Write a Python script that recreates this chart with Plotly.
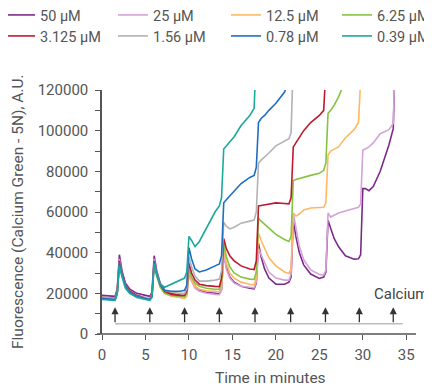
import plotly.graph_objects as go

# ---------------- data ----------------
time_min = [0, 0.5, 1, 1.5, 1.75, 2, 2.3, 2.7, 3.2, 4, 5, 5.5, 5.75, 6, 6.3, 6.7, 7.2, 8, 9, 9.5,
            9.75, 10, 10.3, 10.7, 11.2, 12, 13, 13.5, 13.75, 14, 14.3, 14.7, 15.2, 16, 17, 17.5,
            17.75, 18, 18.3, 18.7, 19.2, 20, 21, 21.5, 21.75, 22, 22.3, 22.7, 23.2, 24, 25, 25.5,
            25.75, 26, 26.3, 26.7, 27.2, 28, 29, 29.5, 29.75, 30, 30.3, 30.7, 31.2, 32, 33, 33.5, 33.75]

series_names = ["50 µM", "25 µM", "12.5 µM", "6.25 µM", "3.125 µM", "1.56 µM", "0.78 µM", "0.39 µM"]

conc_50 = [19000, 18800, 18500, 18500, 22000, 39000, 31000, 25000, 22000, 20000, 19000, 18500, 20500,
           38500, 31000, 25000, 21500, 20000, 19000, 18500, 19500, 30000, 27000, 23500, 21500, 20500,
           20000, 19800, 22000, 40000, 33000, 28000, 25500, 23500, 22500, 22200, 25000, 44500, 38000,
           32000, 27500, 24500, 24500, 25500, 28000, 56000, 48000, 40000, 34000, 29500, 27300, 28000,
           30500, 56000, 52000, 47000, 43000, 38500, 36800, 37000, 39000, 71500, 71500, 70500, 72500,
           80000, 93000, 101000, 140000]
conc_25 = [18000, 17800, 17500, 17500, 21000, 37000, 30000, 24000, 21000, 19000, 18000, 17500, 19500,
           37000, 30000, 24000, 20500, 19000, 18000, 17500, 18500, 29000, 26000, 22500, 21000, 20000,
           19500, 19300, 21500, 39000, 32000, 27500, 25000, 23500, 23000, 22700, 25500, 42000, 39000,
           35000, 30500, 27500, 26500, 26500, 29500, 59500, 52000, 43000, 36500, 31500, 29300, 29000,
           31500, 59500, 57500, 58500, 59500, 60500, 61800, 62300, 64000, 90500, 91000, 92000, 94000,
           98500, 100500, 103500, 140000]
conc_12_5 = [17500, 17300, 17000, 17000, 20000, 35000, 29000, 23500, 20000, 18500, 17500, 17000, 18500,
             35000, 29000, 23000, 20000, 18500, 18000, 17500, 19000, 31000, 27000, 23500, 22000, 21200,
             21000, 20800, 23500, 41500, 35000, 30000, 27500, 25500, 24500, 24200, 27500, 49500, 46000,
             42000, 37500, 33500, 30500, 29800, 32000, 59500, 58000, 59000, 61000, 62000, 62200, 62300,
             64500, 88000, 90000, 90800, 92000, 96500, 100500, 104000, 125000]
conc_6_25 = [17200, 17000, 16800, 16800, 20000, 35000, 29000, 23000, 20000, 18500, 17500, 17000, 18500,
             34500, 28500, 23000, 20000, 19000, 18500, 18500, 20000, 32000, 28000, 25000, 23500, 22500,
             22000, 22000, 25500, 44000, 38000, 33000, 30000, 28000, 27000, 26800, 30500, 57000, 55500,
             54000, 52000, 49000, 46500, 45500, 48000, 75500, 76000, 76500, 77000, 78000, 79000, 80500,
             84000, 108500, 110000, 112500, 116500, 125000]
conc_3_125 = [18000, 17800, 17500, 17500, 21000, 36000, 30000, 24000, 21000, 19000, 17500, 17000, 19000,
              36000, 29500, 24000, 21000, 19500, 19000, 19000, 21000, 35000, 30000, 26500, 24500, 23800,
              23400, 23300, 27500, 47000, 42000, 38500, 36000, 33500, 32000, 31700, 36000, 63000, 63200,
              63500, 63800, 64500, 64200, 64000, 67000, 92000, 94000, 96500, 100000, 104000, 107500,
              110000, 130000]
conc_1_56 = [18000, 17800, 17500, 17500, 20500, 35000, 29000, 23500, 20500, 18500, 17500, 17000, 18500,
             35000, 29500, 24000, 21500, 20500, 20000, 20000, 22500, 38000, 33000, 28500, 26000, 26000,
             26500, 27000, 31000, 55000, 53000, 51700, 52500, 54500, 55500, 56000, 60000, 84000, 85500,
             87000, 89000, 92500, 95000, 96000, 99000, 135000]
conc_0_78 = [17500, 17300, 17000, 17000, 20000, 35000, 29000, 23500, 20500, 18500, 17500, 17000, 18500,
             35500, 29500, 24000, 21500, 21000, 21000, 21500, 24000, 42500, 37000, 32000, 30500, 31500,
             33500, 34500, 38500, 64500, 66000, 68000, 70000, 74000, 77000, 78000, 82000, 104000, 106000,
             107500, 110000, 113500, 119000, 125000]
conc_0_39 = [17000, 16800, 16500, 16500, 19500, 33500, 28000, 22500, 20000, 18000, 17000, 16500, 18000,
             34500, 29000, 24500, 23000, 24500, 26500, 27500, 30500, 48000, 46000, 43000, 45500, 52000,
             60000, 63000, 67000, 91000, 92500, 94500, 97000, 102500, 107500, 111000, 140000]

series_values = [conc_50, conc_25, conc_12_5, conc_6_25, conc_3_125, conc_1_56, conc_0_78, conc_0_39]

calcium_times = [1.5, 5.5, 9.5, 13.5, 17.6, 21.7, 25.7, 29.6, 33.5]

y_tick_vals = [0, 20000, 40000, 60000, 80000, 100000, 120000]
y_tick_text = ["0", "20000", "40000", "60000", "80000", "100000", "120000"]
x_tick_vals = [0, 5, 10, 15, 20, 25, 30, 35]

# ---------------- styling ----------------
colors = ["#7d2a8b", "#d5a3d6", "#ffb862", "#85c441", "#bd1a2f", "#b2b2b2", "#1f6ec0", "#1da89b"]
FONT = "Roboto"
TXT = "#555555"
AX = "#555555"

# The page body adds an 8 px offset; figure coords = page coords - 8
OFF = 8
W, H = 432, 386
ML, MT = 102 - OFF, 90 - OFF
PW, PH = 314, 244
MR, MB = W - ML - PW, H - MT - PH


def px_x(page_x):
    return (page_x - OFF - ML) / PW


def px_y(page_y):
    return 1 - (page_y - OFF - MT) / PH


fig = go.Figure()
legend_keys = ["legend"] + ["legend%d" % i for i in range(2, 9)]
for name, vals, col, lg in zip(series_names, series_values, colors, legend_keys):
    fig.add_trace(go.Scatter(
        x=time_min[:len(vals)], y=vals, mode="lines", name=name,
        line=dict(color=col, width=1.6), legend=lg,
    ))

# calcium baseline and arrows
fig.add_shape(type="line", xref="x", yref="y", x0=calcium_times[0], x1=34.6, y0=5000, y1=5000,
              line=dict(color="#bdbdbd", width=1.5))
for t in calcium_times:
    fig.add_annotation(x=t, y=13200, ax=t, ay=5000, xref="x", yref="y", axref="x", ayref="y",
                       text="", showarrow=True, arrowhead=2, arrowsize=1.1, arrowwidth=1.3,
                       arrowcolor="#333333", standoff=0, startstandoff=0)
fig.add_annotation(x=31.1, y=19450, xref="x", yref="y", text="Calcium", showarrow=False,
                   xanchor="left", yanchor="middle", font=dict(family=FONT, size=15, color="#444444"))

# x axis line (extends slightly left of the y axis)
fig.add_shape(type="line", xref="paper", yref="paper", x0=-5 / PW, x1=1, y0=0, y1=0,
              line=dict(color=AX, width=1.5))

# axis titles
fig.add_annotation(text="Time in minutes", xref="paper", yref="paper",
                   x=px_x(270), y=px_y(378), showarrow=False,
                   xanchor="center", yanchor="middle", font=dict(family=FONT, size=15.5, color=TXT))
fig.add_annotation(text="Fluorescence (Calcium Green - 5N), A.U.", xref="paper", yref="paper",
                   x=px_x(18), y=px_y(212), textangle=-90, showarrow=False,
                   xanchor="center", yanchor="middle", font=dict(family=FONT, size=15.5, color=TXT))

# legends: 4 columns x 2 rows, one legend box per entry
col_left_page = [0, 113, 226, 337]
row_center_page = [15, 36]
legends = {}
for i, key in enumerate(legend_keys):
    c, r = i % 4, i // 4
    legends[key] = dict(orientation="v", xanchor="left", yanchor="middle",
                        x=px_x(col_left_page[c]), y=px_y(row_center_page[r]),
                        font=dict(family=FONT, size=14.5, color=TXT), bgcolor="rgba(0,0,0,0)",
                        borderwidth=0)

fig.update_layout(
    width=W, height=H,
    margin=dict(l=ML, r=MR, t=MT, b=MB, autoexpand=False),
    paper_bgcolor="white", plot_bgcolor="white",
    showlegend=True,
    xaxis=dict(range=[0, PW / 8.694], tickvals=x_tick_vals, showline=False, zeroline=False,
               showgrid=False, ticks="outside", ticklen=5, tickwidth=1.3, tickcolor=AX,
               tickfont=dict(family=FONT, size=15, color=TXT), ticklabelstandoff=2),
    yaxis=dict(range=[0, 120000], tickvals=y_tick_vals, ticktext=y_tick_text, showline=True,
               linecolor=AX, linewidth=1.5, zeroline=False, showgrid=False, ticks="outside",
               ticklen=5, tickwidth=1.3, tickcolor=AX,
               tickfont=dict(family=FONT, size=15, color=TXT), ticklabelstandoff=4,
               minor=dict(dtick=10000, ticks="outside", ticklen=5, tickwidth=1.3, tickcolor=AX,
                          showgrid=False)),
    **legends,
)

fig.write_html("out.html")
